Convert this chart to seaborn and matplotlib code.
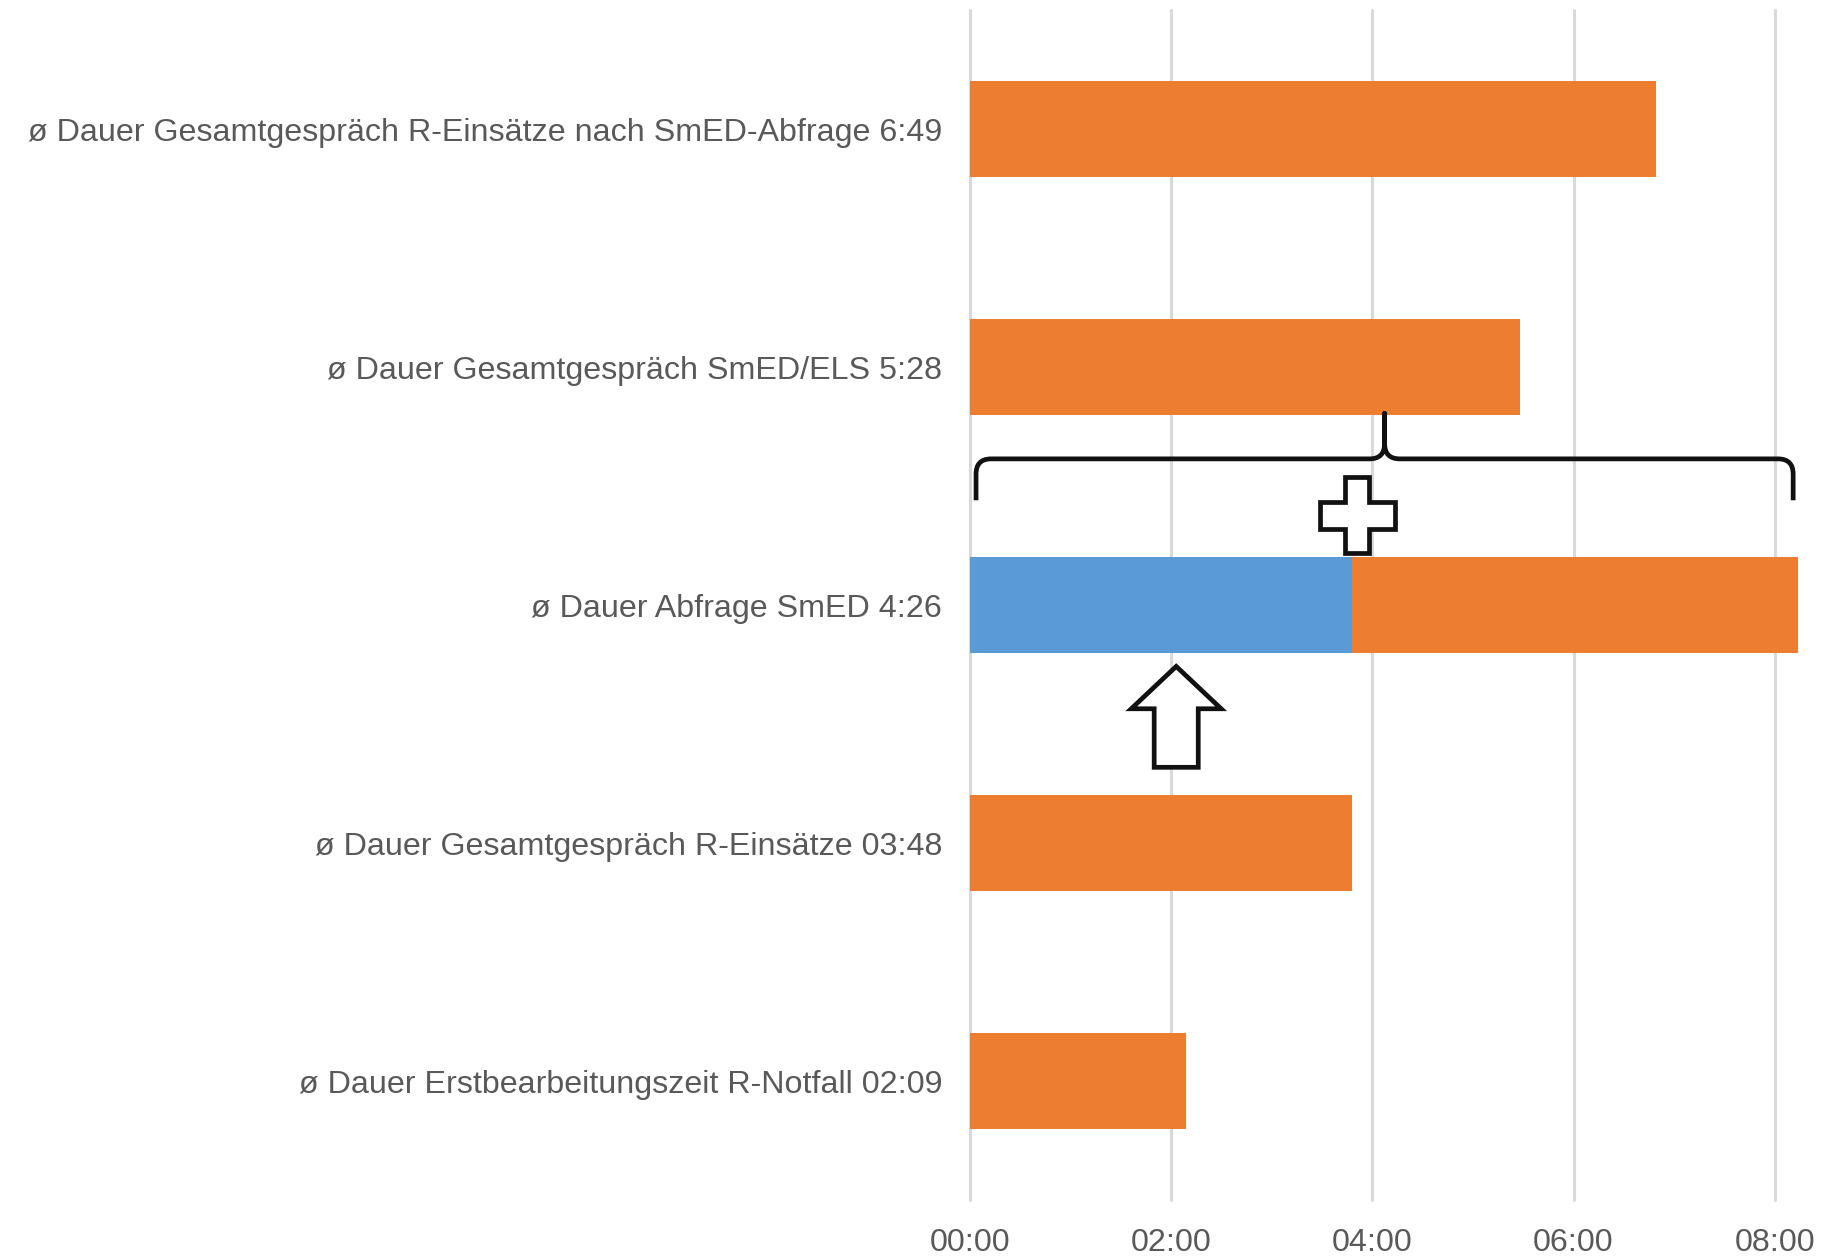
import matplotlib
matplotlib.use("Agg")
import matplotlib.pyplot as plt
import matplotlib.font_manager as fm
from matplotlib.path import Path
from matplotlib.patches import PathPatch, Polygon
from matplotlib.ticker import FuncFormatter, FixedLocator
import pandas as pd
import seaborn as sns

# chart data (durations as m:ss)
labels = [
    "ø Dauer Gesamtgespräch R-Einsätze nach SmED-Abfrage 6:49",
    "ø Dauer Gesamtgespräch SmED/ELS 5:28",
    "ø Dauer Abfrage SmED 4:26",
    "ø Dauer Gesamtgespräch R-Einsätze 03:48",
    "ø Dauer Erstbearbeitungszeit R-Notfall 02:09",
]
blue_parts = ["0:00", "0:00", "3:48", "0:00", "0:00"]
orange_parts = ["6:49", "5:28", "4:26", "3:48", "2:09"]
x_ticks = [0, 2, 4, 6, 8]


def to_min(s):
    m, sec = s.split(":")
    return int(m) + int(sec) / 60


df = pd.DataFrame({
    "label": labels,
    "blue": [to_min(s) for s in blue_parts],
    "orange": [to_min(s) for s in orange_parts],
})
df["total"] = df["blue"] + df["orange"]

sns.set_theme(style="white")
names = {f.name for f in fm.fontManager.ttflist}
narrow = "Liberation Sans Narrow" in names
font = "Liberation Sans Narrow" if narrow else "Liberation Sans"
plt.rcParams["font.family"] = [font, "DejaVu Sans"]
fsize = 28 if narrow else 23.2
grey = "#595959"

fig = plt.figure(figsize=(18.23, 12.57), dpi=100)
ax = fig.add_axes([970 / 1823, 1 - 1200 / 1257, 1 - 970 / 1823, (1200 - 10) / 1257])

sns.barplot(data=df, x="total", y="label", color="#ED7D31", width=0.4,
            saturation=1, linewidth=0, ax=ax)
sns.barplot(data=df, x="blue", y="label", color="#5B9BD5", width=0.4,
            saturation=1, linewidth=0, ax=ax)

ax.set_xlim(0, 8.48)
ax.set_ylim(4.5, -0.5)
ax.set_xlabel("")
ax.set_ylabel("")
for s in ax.spines.values():
    s.set_visible(False)
ax.xaxis.set_major_locator(FixedLocator(x_ticks))
ax.xaxis.set_major_formatter(FuncFormatter(lambda v, p: f"{int(v):02d}:{int(round((v % 1) * 60)):02d}"))
ax.xaxis.grid(True, color="#d9d9d9", linewidth=2.2)
ax.yaxis.grid(False)
ax.set_axisbelow(True)
for gl in ax.get_xgridlines():
    gl.set_clip_on(False)
ax.tick_params(axis="x", length=0, pad=20, labelsize=fsize, labelcolor=grey)
ax.tick_params(axis="y", length=0, pad=20, labelsize=fsize, labelcolor=grey)

# annotations around the stacked bar
row = 2
total = df.loc[row, "total"]
blue_end = df.loc[row, "blue"]
lw = 3.4

# curly brace above the stacked bar
x0, x1 = 0.06, total - 0.05
xm = (x0 + x1) / 2
y_end, y_h, y_tip = row - 0.44, row - 0.614, row - 0.805
rx, ry = 0.15, 0.064
verts = [
    (x0, y_end), (x0, y_h + ry), (x0, y_h), (x0 + rx, y_h),
    (xm - rx, y_h), (xm, y_h), (xm, y_h - ry), (xm, y_tip),
    (xm, y_h - ry), (xm, y_h), (xm + rx, y_h),
    (x1 - rx, y_h), (x1, y_h), (x1, y_h + ry), (x1, y_end),
]
codes = [
    Path.MOVETO, Path.LINETO, Path.CURVE3, Path.CURVE3,
    Path.LINETO, Path.CURVE3, Path.CURVE3, Path.LINETO,
    Path.LINETO, Path.CURVE3, Path.CURVE3,
    Path.LINETO, Path.CURVE3, Path.CURVE3, Path.LINETO,
]
ax.add_patch(PathPatch(Path(verts, codes), fill=False, edgecolor="#111111",
                       linewidth=lw, capstyle="butt", joinstyle="round", clip_on=False))

# outlined plus sign
cx, cy = blue_end + 0.05, row - 0.377
hx, hy, tx, ty = 0.373, 0.16, 0.12, 0.057
plus = [
    (cx - tx, cy - hy), (cx + tx, cy - hy), (cx + tx, cy - ty), (cx + hx, cy - ty),
    (cx + hx, cy + ty), (cx + tx, cy + ty), (cx + tx, cy + hy), (cx - tx, cy + hy),
    (cx - tx, cy + ty), (cx - hx, cy + ty), (cx - hx, cy - ty), (cx - tx, cy - ty),
]
ax.add_patch(Polygon(plus, closed=True, facecolor="white", edgecolor="#111111",
                     linewidth=lw, joinstyle="miter", clip_on=False))

# outlined up arrow below the blue segment
axx = 2.05
tip_y, base_y, bot_y = row + 0.258, row + 0.436, row + 0.682
head_w, shaft_w = 0.447, 0.219
arrow = [
    (axx, tip_y), (axx + head_w, base_y), (axx + shaft_w, base_y), (axx + shaft_w, bot_y),
    (axx - shaft_w, bot_y), (axx - shaft_w, base_y), (axx - head_w, base_y),
]
ax.add_patch(Polygon(arrow, closed=True, facecolor="white", edgecolor="#111111",
                     linewidth=lw, joinstyle="miter", clip_on=False))

fig.savefig("out.png", dpi=100)
